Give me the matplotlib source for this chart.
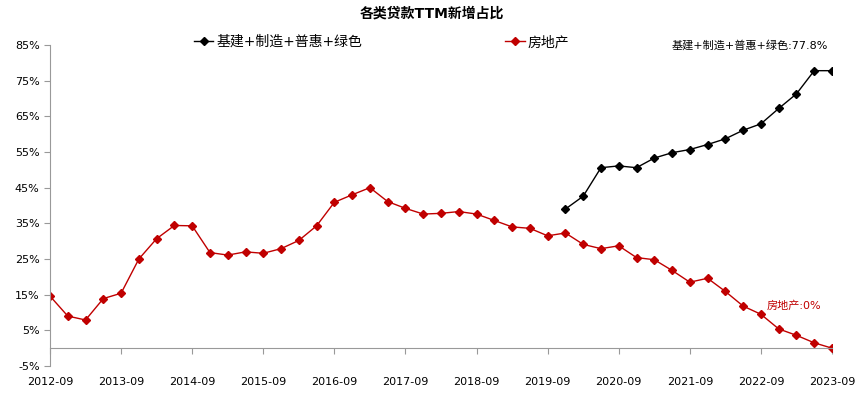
import numpy as np
import matplotlib
matplotlib.use("Agg")
import matplotlib.pyplot as plt
from matplotlib.ticker import FuncFormatter

plt.rcParams['font.family'] = ['DejaVu Sans', 'Noto Sans CJK SC']

# quarterly, 2012-09 .. 2023-09
quarters = [f"{y}-{m:02d}" for y in range(2012, 2024) for m in (3, 6, 9, 12)][2:-1]
year_labels = [f"{y}-09" for y in range(2012, 2024)]

real_estate = [14.6, 9.0, 7.9, 13.9, 15.4, 25.0, 30.7, 34.4, 34.3, 26.8,
               26.1, 27.0, 26.6, 27.9, 30.2, 34.3, 40.9, 43.0, 45.0, 41.1,
               39.2, 37.6, 37.8, 38.3, 37.6, 35.8, 34.0, 33.6, 31.5, 32.3,
               29.1, 27.9, 28.7, 25.4, 24.8, 21.8, 18.5, 19.6, 15.9, 11.8,
               9.5, 5.4, 3.6, 1.5, 0.0]
# 基建+制造+普惠+绿色 starts 2019-12
infra_start = 29
infra = [39.0, 42.6, 50.6, 51.1, 50.6, 53.3, 54.8, 55.7, 57.1, 58.7,
         61.1, 62.9, 67.2, 71.3, 77.8, 77.8]

x = np.arange(len(quarters))
x_infra = x[infra_start:infra_start + len(infra)]

fig = plt.figure(figsize=(8.63, 3.95), dpi=100)
ax = fig.add_axes([50 / 863, 1 - 366 / 395, 782 / 863, 321 / 395])

red = "#C00000"
ax.plot(x_infra, infra, color="black", lw=1, marker="D", ms=4, label="基建+制造+普惠+绿色")
ax.plot(x, real_estate, color=red, lw=1, marker="D", ms=4, label="房地产")

ax.set_xlim(0, len(quarters) - 1)
ax.set_ylim(-5, 85)
ax.set_yticks(np.arange(-5, 86, 10))
ax.yaxis.set_major_formatter(FuncFormatter(lambda v, p: f"{v:.0f}%"))
ax.set_xticks([quarters.index(q) for q in year_labels])
ax.set_xticklabels(year_labels)

for s in ("top", "right"):
    ax.spines[s].set_visible(False)
ax.spines["left"].set_color("#999999")
ax.spines["bottom"].set_color("#999999")
ax.spines["bottom"].set_position(("data", 0))
ax.tick_params(axis="y", colors="#999999", labelcolor="black", labelsize=8, length=4, direction="out")
ax.tick_params(axis="x", colors="#999999", labelcolor="black", labelsize=8, length=4, direction="out", pad=17)

ax.text(x[-1] - 0.2, 85, f"基建+制造+普惠+绿色:{infra[-1]}%", fontsize=8, ha="right", va="center")
ax.text(x[-1] - 0.6, 12, f"房地产:{real_estate[-1]:.0f}%", fontsize=8, color=red, ha="right", va="center")

fig.text(0.5, 1 - 14 / 395, "各类贷款TTM新增占比", fontsize=10, fontweight="bold", ha="center", va="center")
fig.legend(loc="center", bbox_to_anchor=(0.442, 1 - 42 / 395), ncol=2, frameon=False,
           fontsize=10, columnspacing=10.3, handlelength=1.4, handletextpad=0.2)

fig.savefig("out.png", dpi=100)
